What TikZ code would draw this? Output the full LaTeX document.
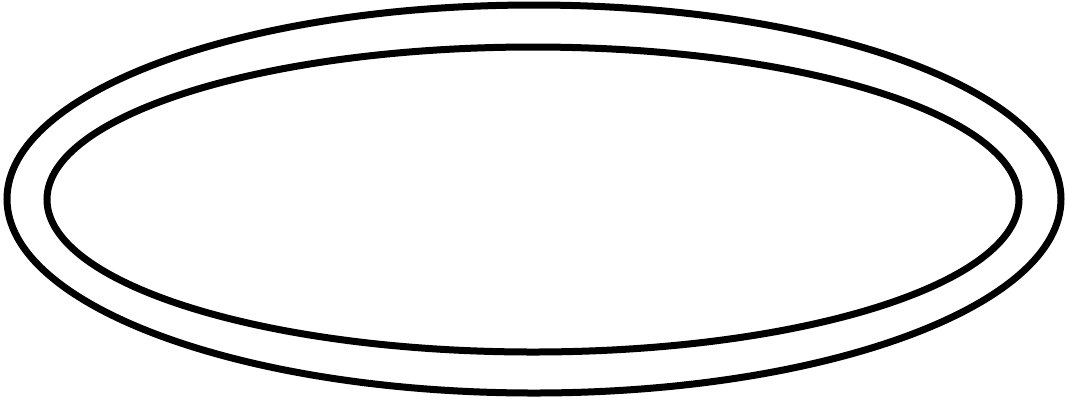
\documentclass[tikz,border=0pt]{standalone}
\usepackage{tikz}

\begin{document}
\begin{tikzpicture}
\useasboundingbox (0,0) rectangle (10.65,4);
\draw [line width=0.07cm, black] (5.34,2.01) ellipse [x radius=5.27, y radius=1.94];
\draw [line width=0.07cm, black] (5.33,2.005) ellipse [x radius=4.86, y radius=1.525];
\end{tikzpicture}
\end{document}
